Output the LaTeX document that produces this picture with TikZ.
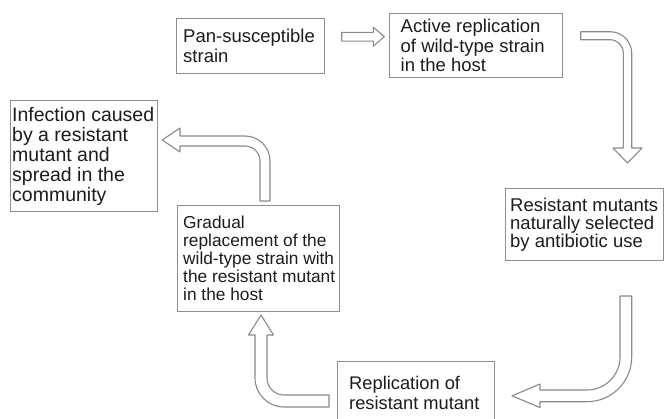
\documentclass[tikz,border=0pt]{standalone}
\usepackage{fontspec}
\setmainfont{Liberation Sans}
\definecolor{boxgray}{HTML}{8E8E8E}
\definecolor{arrgray}{HTML}{8A8A8A}
\definecolor{txtcol}{HTML}{1C1C1C}
\begin{document}
\begin{tikzpicture}[x=1pt,y=1pt,
  stagebox/.style={draw=boxgray, line width=1pt, fill=white, anchor=north west, inner sep=0pt},
  stagetext/.style={anchor=west, inner sep=0pt, align=left, text=txtcol, font=\fontsize{18.5}{19.5}\selectfont},
  blockarrow/.style={draw=arrgray, line width=1.1pt, fill=white, line join=round}]
\useasboundingbox (0,0) rectangle (664,-418);
\fill[white] (0,0) rectangle (664,-418);

% boxes
\node[stagebox, minimum width=148pt, minimum height=55pt] (b1) at (176,-18) {};
\node[stagetext] (t1) at ([xshift=7pt]b1.west) {Pan-susceptible\\strain};

\node[stagebox, minimum width=173.5pt, minimum height=64pt] (b2) at (388.5,-13) {};
\node[stagetext] (t2) at ([xshift=12pt]b2.west) {Active replication\\of wild-type strain\\in the host};

\node[stagebox, minimum width=158pt, minimum height=72pt] (b3) at (505,-188) {};
\node[stagetext, font=\fontsize{18.5}{18}\selectfont] (t3) at ([xshift=5pt]b3.west) {Resistant mutants\\naturally selected\\by antibiotic use};

\node[stagebox, minimum width=157pt, minimum height=62pt] (b4) at (337,-361) {};
\node[stagetext, font=\fontsize{18.3}{20}\selectfont] (t4) at ([xshift=12pt]b4.west) {Replication of\\resistant mutant};

\node[stagebox, minimum width=162pt, minimum height=106pt] (b5) at (177,-205) {};
\node[stagetext, font=\fontsize{17.3}{18}\selectfont] (t5) at ([xshift=6pt]b5.west) {Gradual\\replacement of the\\wild-type strain with\\the resistant mutant\\in the host};

\node[stagebox, minimum width=147.5pt, minimum height=111pt] (b6) at (9.5,-100) {};
\node[stagetext, font=\fontsize{19.5}{20}\selectfont] (t6) at ([xshift=2.5pt]b6.west) {Infection caused\\by a resistant\\mutant and\\spread in the\\community};

% block arrows
% 1: pan-susceptible -> active replication
\draw[blockarrow] (341.7,-32.3) -- (373.3,-32.3) -- (373.3,-27.2) -- (384.3,-36.7)
  -- (373.3,-46.2) -- (373.3,-41.1) -- (341.7,-41.1) -- cycle;
% 2: active replication -> resistant mutants
\draw[blockarrow] (580.7,-31.7) -- (610,-31.7) arc[start angle=90,end angle=0,radius=21.7]
  -- (631.7,-148) -- (642,-148) -- (627.5,-163) -- (613,-148) -- (623.3,-148)
  -- (623.3,-53) arc[start angle=0,end angle=90,radius=13.3] -- (580.7,-39.7) -- cycle;
% 3: resistant mutants -> replication
\draw[blockarrow] (620,-296) -- (631.7,-296) -- (631.7,-357)
  arc[start angle=0,end angle=-90,radius=44.7] -- (540,-401.7) -- (540,-407.5)
  -- (512,-395.8) -- (540,-384) -- (540,-390) -- (587,-390)
  arc[start angle=-90,end angle=0,radius=33] -- cycle;
% 4: replication -> gradual replacement
\draw[blockarrow] (329,-395) -- (329,-407) -- (284,-407)
  arc[start angle=-90,end angle=-180,radius=29] -- (255,-335) -- (248.5,-335)
  -- (261,-315) -- (273.5,-335) -- (267,-335) -- (267,-378)
  arc[start angle=180,end angle=270,radius=17] -- cycle;
% 5: gradual replacement -> infection
\draw[blockarrow] (260,-201) -- (270,-201) -- (270,-161)
  arc[start angle=0,end angle=90,radius=25] -- (180,-136) -- (180,-128)
  -- (162.3,-140) -- (180,-152) -- (180,-146) -- (245,-146)
  arc[start angle=90,end angle=0,radius=15] -- cycle;
\end{tikzpicture}
\end{document}
